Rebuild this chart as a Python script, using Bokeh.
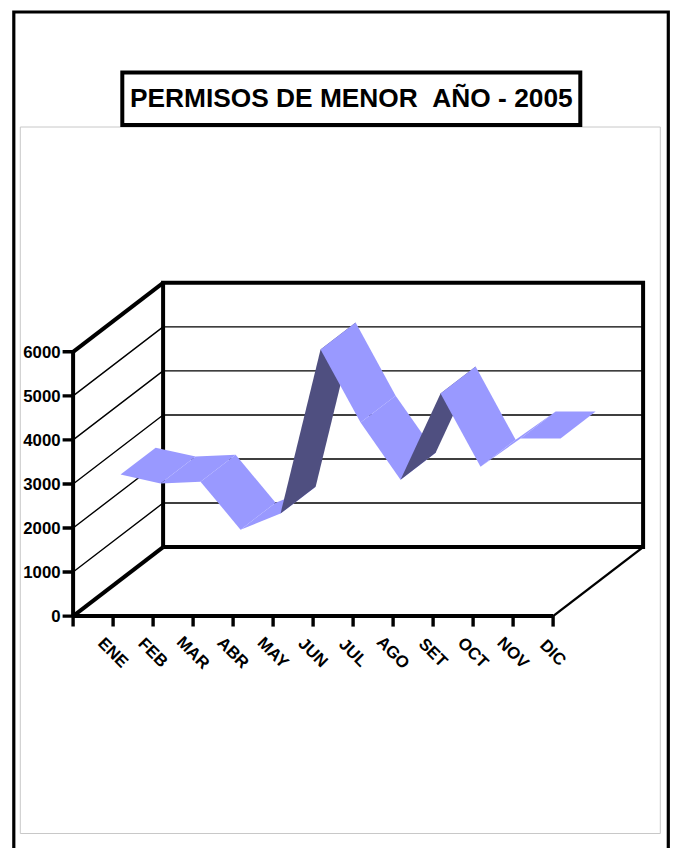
from bokeh.plotting import figure
from bokeh.embed import file_html
from bokeh.resources import INLINE
from bokeh.core.properties import value
from bokeh.models import Range1d

months = ["ENE", "FEB", "MAR", "ABR", "MAY", "JUN", "JUL", "AGO", "SET", "OCT", "NOV", "DIC"]
permisos = [2735, 2535, 2575, 1485, 1850, 5575, 3915, 2620, 4575, 2915, 3555, 3555]
y_ticks = [0, 1000, 2000, 3000, 4000, 5000, 6000]
title = "PERMISOS DE MENOR\u00a0\u00a0AÑO - 2005"

W, H = 677, 848
X0, Y0 = 73.3, 615.6        # screen position of the origin
PX_CAT = 40.0               # pixels per category
PX_VAL = 0.04405            # pixels per unit of value
DX, DY = 90.0 / PX_CAT, 69.0 / PX_VAL   # depth of the box in data units
D1, D2 = 0.305, 0.695       # ribbon's span across the depth

def sx(px):
    return (px - X0) / PX_CAT

def sy(py):
    return (Y0 - py) / PX_VAL

p = figure(width=W, height=H, output_backend="svg", toolbar_location=None,
           x_axis_type=None, y_axis_type=None, min_border=0,
           x_range=Range1d(sx(0.7), sx(W + 0.7)), y_range=Range1d(sy(H), sy(0)),
           outline_line_color=None, background_fill_color="white")
p.margin = (0, 0, 0, 0)
p.grid.visible = False

n = len(months)
ymax = y_ticks[-1]

# page frames
p.line([sx(14), sx(14), sx(668.5), sx(668.5)], [sy(H), sy(11.5), sy(11.5), sy(H)],
       line_color="black", line_width=3.2, line_join="miter")
p.line([sx(20.5), sx(660.5), sx(660.5), sx(20.5), sx(20.5)],
       [sy(126.5), sy(126.5), sy(833), sy(833), sy(126.5)],
       line_color="#c8c8c8", line_width=1)
p.quad(left=[sx(122.5)], right=[sx(580.5)], top=[sy(72)], bottom=[sy(124.5)],
       fill_color="white", line_color="black", line_width=4, line_join="miter")
p.text([sx(351.5)], [sy(97.4)], text=[title], text_font=value("Liberation Sans"),
       text_font_style="bold", text_font_size="26.3px", text_align="center",
       text_baseline="middle", text_color="black")

# thin gridlines: side wall and back wall
for t in y_ticks[1:-1]:
    p.line([0, DX, DX + n], [t, t + DY, t + DY], line_color="black", line_width=1.4)

# heavy box edges
p.line([n, n + DX], [0, DY], line_color="black", line_width=2.4)
p.line([0, DX], [0, DY], line_color="black", line_width=4)
p.line([0, DX], [ymax, ymax + DY], line_color="black", line_width=4)
p.line([DX, DX + n, DX + n, DX, DX], [DY, DY, DY + ymax, DY + ymax, DY],
       line_color="black", line_width=4, line_join="miter")
p.line([0, 0], [ymax, 0], line_color="black", line_width=4)
p.line([0, n], [0, 0], line_color="black", line_width=4)

# axis ticks
p.segment(x0=list(range(n + 1)), x1=list(range(n + 1)), y0=[0] * (n + 1),
          y1=[-10.5 / PX_VAL] * (n + 1), line_color="black", line_width=3.4)
p.segment(x0=[-10.5 / PX_CAT] * len(y_ticks), x1=[0] * len(y_ticks), y0=y_ticks, y1=y_ticks,
          line_color="black", line_width=3.4)

# ribbon
for i in range(n - 1):
    xa, xb = i + 0.5, i + 1.5
    va, vb = permisos[i], permisos[i + 1]
    xs = [xa + D1 * DX, xb + D1 * DX, xb + D2 * DX, xa + D2 * DX]
    ys = [va + D1 * DY, vb + D1 * DY, vb + D2 * DY, va + D2 * DY]
    slope_px = (vb - va) * PX_VAL / PX_CAT
    depth_slope = DY * PX_VAL / (DX * PX_CAT)
    color = "#4f4f80" if slope_px > depth_slope else "#9999ff"
    p.patch(xs, ys, fill_color=color, line_color=None)

# tick labels
p.text([-12.5 / PX_CAT] * len(y_ticks), y_ticks, text=[str(t) for t in y_ticks],
       text_font=value("Liberation Sans"), text_font_style="bold", text_font_size="16.8px",
       text_align="right", text_baseline="middle", text_color="black")
p.text([i + 1 for i in range(n)], [-36.5 / PX_VAL] * n, text=months, angle=-45, angle_units="deg",
       text_font=value("Liberation Sans"), text_font_style="bold", text_font_size="16.8px",
       text_align="center", text_baseline="middle", text_color="black")

open("out.html", "w").write(file_html(p, INLINE))
